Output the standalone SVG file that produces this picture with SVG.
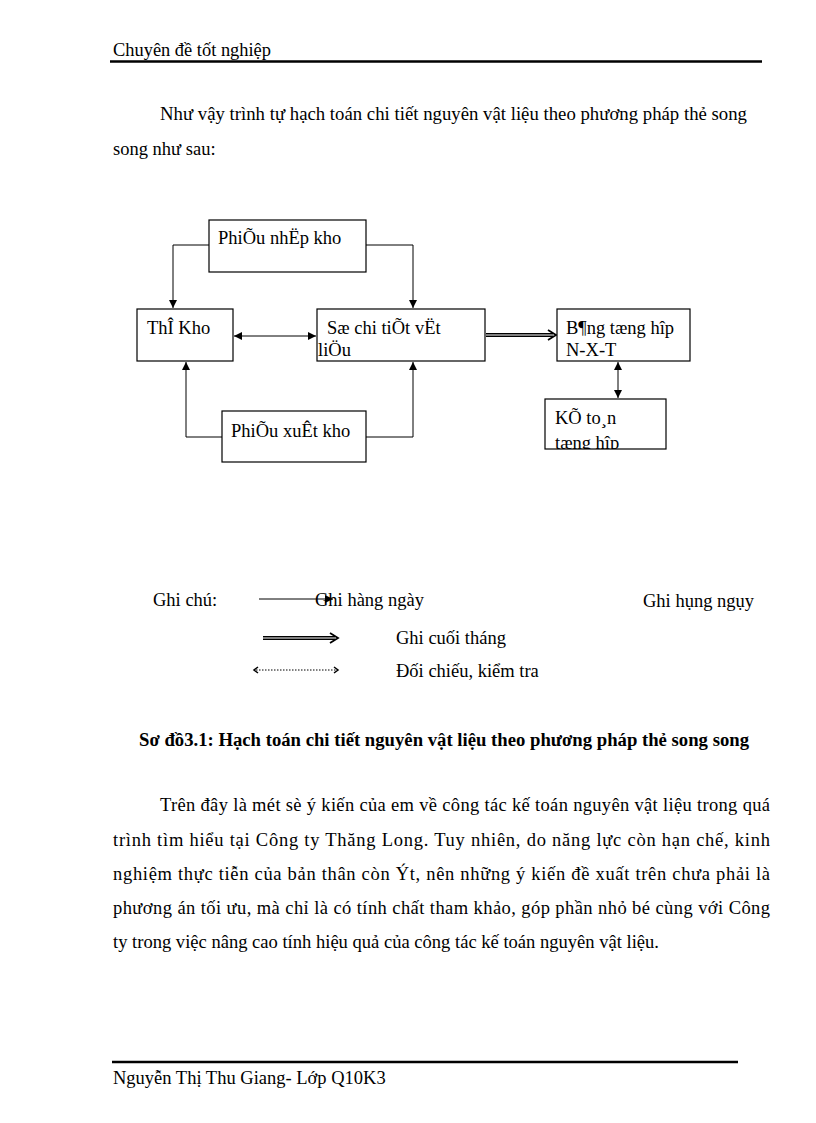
<svg xmlns="http://www.w3.org/2000/svg" width="816" height="1123" viewBox="0 0 816 1123">
<style>
text{font-family:"Liberation Serif","Times New Roman",serif;fill:#000}
.body{font-size:18.5px}
.node{font-size:18.5px}
.box{fill:#fff;stroke:#000;stroke-width:1.2}
.ln{fill:none;stroke:#000;stroke-width:1}
.bold{font-weight:bold;font-size:18px}
</style>
<defs>
<marker id="ah" viewBox="0 0 10 10" refX="10" refY="5" markerWidth="8" markerHeight="8" markerUnits="userSpaceOnUse" orient="auto-start-reverse">
<path d="M0,0 L10,5 L0,10 z" fill="#000"/>
</marker>
<clipPath id="kclip"><rect x="545" y="399" width="121" height="50"/></clipPath>
</defs>

<g id="header">
<text class="body" x="113" y="56" textLength="158" lengthAdjust="spacingAndGlyphs">Chuyên  đề tốt nghiệp</text>
<line x1="110" y1="61.5" x2="762" y2="61.5" stroke="#000" stroke-width="2.5"/>
</g>

<g id="intro">
<text class="body" x="160" y="120" textLength="587" lengthAdjust="spacingAndGlyphs">Như vậy trình tự hạch toán chi tiết nguyên vật liệu  theo phương pháp thẻ song</text>
<text class="body" x="113" y="155">song như  sau:</text>
</g>

<g id="connectors">
<polyline class="ln" points="209,245 173,245 173,308" marker-end="url(#ah)"/>
<polyline class="ln" points="366,245 413,245 413,308" marker-end="url(#ah)"/>
<line class="ln" x1="234" y1="336" x2="316" y2="336" marker-start="url(#ah)" marker-end="url(#ah)"/>
<polyline class="ln" points="222,437 186,437 186,362" marker-end="url(#ah)"/>
<polyline class="ln" points="366,437 413,437 413,362" marker-end="url(#ah)"/>
<line x1="486" y1="335" x2="553" y2="335" stroke="#000" stroke-width="4"/>
<line x1="486" y1="335" x2="553" y2="335" stroke="#fff" stroke-width="1.2"/>
<path d="M548,330 L556,335 L548,340" fill="none" stroke="#000" stroke-width="1.8"/>
<line class="ln" x1="618" y1="362" x2="618" y2="398" marker-start="url(#ah)" marker-end="url(#ah)"/>
</g>

<g id="phieu-nhap">
<rect class="box" x="209" y="220" width="157" height="52"/>
<text class="node" x="218" y="244">PhiÕu nhËp kho</text>
</g>
<g id="the-kho">
<rect class="box" x="137" y="309" width="96" height="52"/>
<text class="node" x="147" y="334">ThÎ Kho</text>
</g>
<g id="so-chi-tiet">
<rect class="box" x="317" y="309" width="168" height="52"/>
<text class="node" x="327" y="334">Sæ chi tiÕt vËt</text>
<text class="node" x="318" y="356">liÖu</text>
</g>
<g id="phieu-xuat">
<rect class="box" x="222" y="411" width="144" height="51"/>
<text class="node" x="231" y="437">PhiÕu xuÊt kho</text>
</g>
<g id="bang-tong-hop">
<rect class="box" x="557" y="309" width="133" height="52"/>
<text class="node" x="566" y="334">B¶ng tæng hîp</text>
<text class="node" x="566" y="356">N-X-T</text>
</g>
<g id="ke-toan">
<rect class="box" x="545" y="399" width="121" height="50"/>
<g clip-path="url(#kclip)">
<text class="node" x="555" y="424">KÕ to¸n</text>
<text class="node" x="555" y="449">tæng hîp</text>
</g>
</g>

<g id="legend">
<text class="body" x="153" y="606">Ghi chú:</text>
<line class="ln" x1="259" y1="599" x2="333" y2="599" marker-end="url(#ah)"/>
<text class="body" x="315" y="606">Ghi hàng ngày</text>
<text class="body" x="643" y="607">Ghi hụng ngụy</text>
<line x1="263" y1="638" x2="335" y2="638" stroke="#000" stroke-width="4"/>
<line x1="263" y1="638" x2="335" y2="638" stroke="#fff" stroke-width="1.2"/>
<path d="M330,633 L338,638 L330,643" fill="none" stroke="#000" stroke-width="1.8"/>
<text class="body" x="396" y="644">Ghi cuối tháng</text>
<line x1="256" y1="670" x2="336" y2="670" stroke="#000" stroke-width="1" stroke-dasharray="1.5,1.5"/>
<path d="M258,667 L254,670 L258,673" fill="none" stroke="#000" stroke-width="1.5"/>
<path d="M334,667 L338,670 L334,673" fill="none" stroke="#000" stroke-width="1.5"/>
<text class="body" x="396" y="677">Đối chiếu, kiểm tra</text>
</g>

<g id="caption">
<text class="bold" x="139" y="746" textLength="610" lengthAdjust="spacingAndGlyphs">Sơ đồ3.1: Hạch toán chi tiết nguyên vật liệu theo phương pháp thẻ song song</text>
</g>

<g id="paragraph">
<text class="body" x="160" y="811" textLength="610" lengthAdjust="spacing">Trên đây là mét sè ý kiến của em về công tác kế toán nguyên vật liệu trong quá</text>
<text class="body" x="113" y="846" textLength="657" lengthAdjust="spacing">trình tìm hiểu tại Công ty Thăng Long. Tuy nhiên,  do năng lực còn hạn chế, kinh</text>
<text class="body" x="113" y="880" textLength="657" lengthAdjust="spacing">nghiệm thực tiễn của bản thân còn Ýt, nên những ý kiến đề xuất trên chưa phải là</text>
<text class="body" x="113" y="914" textLength="657" lengthAdjust="spacing">phương án tối ưu, mà chỉ là có tính chất tham khảo, góp phần nhỏ bé cùng với Công</text>
<text class="body" x="113" y="948" textLength="546" lengthAdjust="spacingAndGlyphs">ty trong việc nâng cao tính hiệu quả của công tác kế toán nguyên vật liệu.</text>
</g>

<g id="footer">
<line x1="112" y1="1062" x2="738" y2="1062" stroke="#000" stroke-width="2.5"/>
<text class="body" x="113" y="1084">Nguyễn  Thị Thu Giang-  Lớp Q10K3</text>
</g>
</svg>
